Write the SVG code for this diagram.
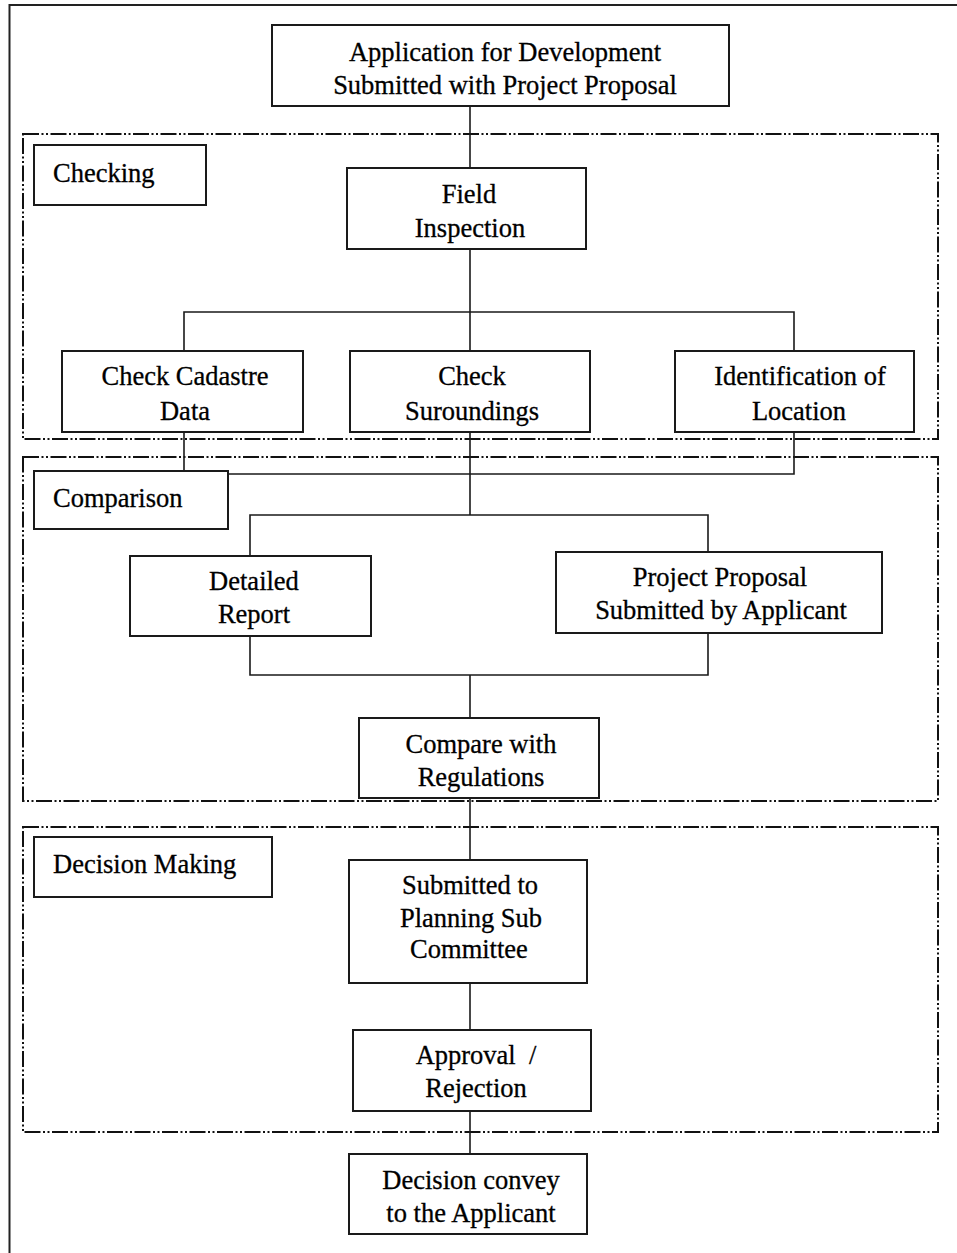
<svg xmlns="http://www.w3.org/2000/svg" width="957" height="1253" viewBox="0 0 957 1253">
<style>
.frame{fill:none;stroke:#222;stroke-width:2}
.grp{fill:none;stroke:#111;stroke-width:2;stroke-dasharray:16 2.5 2 2.5 2 2.5}
.box{fill:#fff;stroke:#1a1a1a;stroke-width:2}
.con{fill:none;stroke:#1a1a1a;stroke-width:1.6}
text{font-family:"Liberation Serif","Times New Roman",serif;font-size:26.5px;fill:#000;stroke:#000;stroke-width:0.3}
.c{text-anchor:middle}
</style>
<rect x="0" y="0" width="957" height="1253" fill="#fff"/>
<rect class="frame" x="9.5" y="5" width="980" height="1280"/>
<g id="groups">
<rect class="grp" x="23" y="134" width="915" height="305"/>
<rect class="grp" x="23" y="457" width="915" height="344"/>
<rect class="grp" x="23" y="827" width="915" height="305"/>
</g>
<g id="connectors">
<path class="con" d="M470 106V168"/>
<path class="con" d="M470 249V351M184 351V312H794V351"/>
<path class="con" d="M184 432V471M794 432V474H228M470 432V515"/>
<path class="con" d="M250 556V515H708V552"/>
<path class="con" d="M250 636V675H708V633M470 675V718"/>
<path class="con" d="M470 798V860"/>
<path class="con" d="M470 983V1030"/>
<path class="con" d="M470 1111V1154"/>
</g>
<g id="n-application">
<rect class="box" x="272" y="25" width="457" height="81"/>
<text class="c" x="505" y="61">Application for Development</text>
<text class="c" x="505" y="94">Submitted with Project Proposal</text>
</g>
<g id="n-checking">
<rect class="box" x="34" y="145" width="172" height="60"/>
<text x="53" y="182">Checking</text>
</g>
<g id="n-field">
<rect class="box" x="347" y="168" width="239" height="81"/>
<text class="c" x="469" y="203">Field</text>
<text class="c" x="470" y="237">Inspection</text>
</g>
<g id="n-cadastre">
<rect class="box" x="62" y="351" width="241" height="81"/>
<text class="c" x="185" y="385">Check Cadastre</text>
<text class="c" x="185" y="420">Data</text>
</g>
<g id="n-surroundings">
<rect class="box" x="350" y="351" width="240" height="81"/>
<text class="c" x="472" y="385">Check</text>
<text class="c" x="472" y="420">Suroundings</text>
</g>
<g id="n-location">
<rect class="box" x="675" y="351" width="239" height="81"/>
<text class="c" x="800" y="385">Identification of</text>
<text class="c" x="799" y="420">Location</text>
</g>
<g id="n-comparison">
<rect class="box" x="34" y="471" width="194" height="58"/>
<text x="53" y="507">Comparison</text>
</g>
<g id="n-report">
<rect class="box" x="130" y="556" width="241" height="80"/>
<text class="c" x="254" y="590">Detailed</text>
<text class="c" x="254" y="623">Report</text>
</g>
<g id="n-proposal">
<rect class="box" x="556" y="552" width="326" height="81"/>
<text class="c" x="720" y="586">Project Proposal</text>
<text class="c" x="721" y="619">Submitted by Applicant</text>
</g>
<g id="n-compare">
<rect class="box" x="359" y="718" width="240" height="80"/>
<text class="c" x="481" y="753">Compare with</text>
<text class="c" x="481" y="786">Regulations</text>
</g>
<g id="n-decisionmaking">
<rect class="box" x="34" y="837" width="238" height="60"/>
<text x="53" y="873">Decision Making</text>
</g>
<g id="n-committee">
<rect class="box" x="349" y="860" width="238" height="123"/>
<text class="c" x="470" y="894">Submitted to</text>
<text class="c" x="471" y="927">Planning Sub</text>
<text class="c" x="469" y="958">Committee</text>
</g>
<g id="n-approval">
<rect class="box" x="353" y="1030" width="238" height="81"/>
<text class="c" x="476" y="1064" xml:space="preserve">Approval  /</text>
<text class="c" x="476" y="1097">Rejection</text>
</g>
<g id="n-convey">
<rect class="box" x="349" y="1154" width="238" height="80"/>
<text class="c" x="471" y="1189">Decision convey</text>
<text class="c" x="471" y="1222">to the Applicant</text>
</g>
</svg>
